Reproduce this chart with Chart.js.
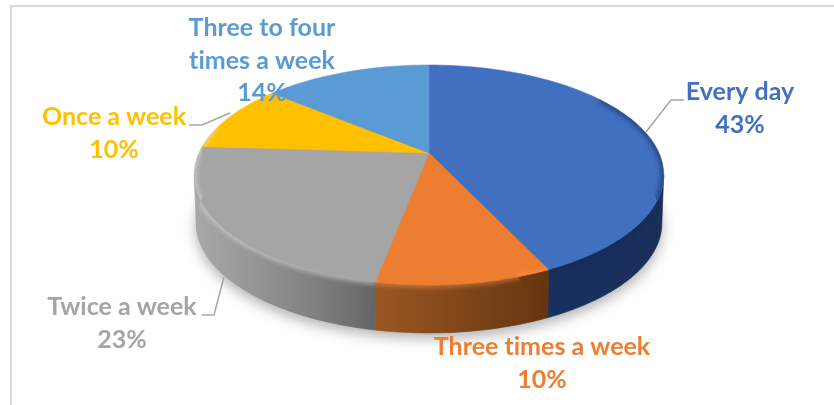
<!DOCTYPE html>
<html>
<head>
<meta charset="utf-8">
<style>
  html,body{margin:0;padding:0;background:#fff;overflow:hidden}
  #wrap{position:relative;width:834px;height:405px}
  #frame{position:absolute;left:10px;top:5px;right:0;bottom:0;border-left:2px solid #d9d9d9;border-top:2px solid #d9d9d9}
  canvas{position:absolute;left:0;top:0}
</style>
</head>
<body>
<div id="wrap">
  <div id="frame"></div>
  <canvas id="pie3d" width="834" height="405"></canvas>
</div>
<script src="https://cdn.jsdelivr.net/npm/chart.js@4/dist/chart.umd.min.js"></script>
<script>
const categories = ['Every day','Three times a week','Twice a week','Once a week','Three to four times a week'];
const shares = [43,10,23,10,14];
const labelLines = [['Every day'],['Three times a week'],['Twice a week'],['Once a week'],['Three to four','times a week']];
const sliceColors = ['#4270c0','#ed7d31','#a5a5a5','#ffc000','#5b9bd5'];

// projection of the flat pie onto the tilted disc (multiples of the arc radius)
const view = {sx:2.30, sy:1.056, persp:-0.2, depth:0.48, shrink:0.992};

// side wall colours, left to right
const wallStops = [
  ['#17305f','#1b2f58'],
  ['#9a5722','#653510'],
  ['#a9a9a9','#959595','#808080','#656565'],
  ['#a08000','#a08000'],
  ['#3b6a96','#3b6a96']
];

// label centre + first baseline, leader polylines
const labelPos = [[740,100],[542,355],[122,315],[114,125],[262,36]];
const leaders = [
  [[646,132],[671,100],[684,100]],
  null,
  [[202,315],[214,315],[224,277]],
  [[189,125],[202,125],[230,113]],
  null
];

function project(arc,a,low){
  const u=Math.cos(a), v=Math.sin(a), w=1+view.persp*v, R=arc.outerRadius;
  const k=low?view.shrink:1;
  return [arc.x+view.sx*R*k*u/w, arc.y+view.sy*R*v/w+(low?view.depth*R:0)];
}
function trace(ctx,arc,a0,a1,low,first){
  const n=Math.max(2,Math.ceil(Math.abs(a1-a0)/0.02));
  for(let i=0;i<=n;i++){
    const p=project(arc,a0+(a1-a0)*i/n,low);
    if(i===0&&first) ctx.moveTo(p[0],p[1]); else ctx.lineTo(p[0],p[1]);
  }
}
const frontStart=Math.asin(0.2), frontEnd=Math.PI-Math.asin(0.2);

const pie3d = {
  id:'pie3d',
  beforeDatasetDraw(chart){
    const ctx=chart.ctx, arcs=chart.getDatasetMeta(0).data;
    const a0=arcs[0];
    // ground shadow
    ctx.save();
    ctx.shadowColor='rgba(0,0,0,.32)'; ctx.shadowBlur=14; ctx.shadowOffsetY=5;
    ctx.fillStyle='#999';
    ctx.beginPath();
    trace(ctx,a0,-Math.PI/2,Math.PI*1.5,true,true);
    ctx.closePath(); ctx.fill();
    ctx.restore();

    // walls
    arcs.forEach((arc,i)=>{
      const s=Math.max(arc.startAngle,frontStart), e=Math.min(arc.endAngle,frontEnd);
      if(e<=s) return;
      const pS=project(arc,e,false), pE=project(arc,s,false);
      const g=ctx.createLinearGradient(pS[0],0,pE[0],0);
      wallStops[i].forEach((c,j,l)=>g.addColorStop(j/(l.length-1),c));
      ctx.fillStyle=g;
      ctx.beginPath();
      trace(ctx,arc,s,e,false,true);
      trace(ctx,arc,e,s,true,false);
      ctx.closePath(); ctx.fill();
      ctx.strokeStyle=g; ctx.lineWidth=0.6; ctx.stroke();
    });

    // tops
    arcs.forEach((arc,i)=>{
      ctx.fillStyle=sliceColors[i];
      ctx.beginPath();
      ctx.moveTo(arc.x,arc.y);
      trace(ctx,arc,arc.startAngle,arc.endAngle,false,false);
      ctx.closePath(); ctx.fill();
      ctx.strokeStyle=sliceColors[i]; ctx.lineWidth=0.5; ctx.stroke();
    });

    // rim bevel
    arcs.forEach((arc,i)=>{
      ctx.save();
      ctx.beginPath();
      ctx.moveTo(arc.x,arc.y);
      trace(ctx,arc,arc.startAngle,arc.endAngle,false,false);
      trace(ctx,arc,arc.endAngle,arc.startAngle,true,false);
      ctx.closePath(); ctx.clip();
      ctx.filter='blur(2.5px)';
      const dark=i===0;
      ctx.strokeStyle=dark?'rgba(20,40,85,.6)':i===1?'rgba(255,150,80,.65)':'rgba(225,225,225,.7)';
      ctx.lineWidth=dark?6:4;
      ctx.beginPath();
      const s=Math.max(arc.startAngle,dark?-0.6:frontStart), e=Math.min(arc.endAngle,Math.PI+0.25);
      if(e>s){ trace(ctx,arc,s,e,false,true); ctx.stroke(); }
      ctx.restore();
    });
    return false;
  },
  afterDatasetsDraw(chart){
    const ctx=chart.ctx;
    ctx.save();
    ctx.strokeStyle='#a6a6a6'; ctx.lineWidth=1.5;
    leaders.forEach(l=>{
      if(!l) return;
      ctx.beginPath();
      l.forEach((p,j)=>j?ctx.lineTo(p[0],p[1]):ctx.moveTo(p[0],p[1]));
      ctx.stroke();
    });
    ctx.font="bold 25px Lato, sans-serif";
    ctx.letterSpacing='0.01px'; // keeps Lato from joining "ti"
    ctx.textAlign='center'; ctx.textBaseline='alphabetic';
    labelLines.forEach((lines,i)=>{
      ctx.fillStyle=sliceColors[i];
      const rows=lines.concat(shares[i]+'%');
      rows.forEach((t,j)=>ctx.fillText(t,labelPos[i][0],labelPos[i][1]+j*32.5));
    });
    ctx.restore();
  }
};

new Chart(document.getElementById('pie3d').getContext('2d'), {
  type:'pie',
  data:{
    labels:categories,
    datasets:[{data:shares, backgroundColor:sliceColors, borderWidth:0}]
  },
  options:{
    responsive:false, animation:false,
    layout:{padding:{left:329,right:305,top:53,bottom:152}},
    plugins:{legend:{display:false}, tooltip:{enabled:false}}
  },
  plugins:[pie3d]
});
</script>
</body>
</html>
